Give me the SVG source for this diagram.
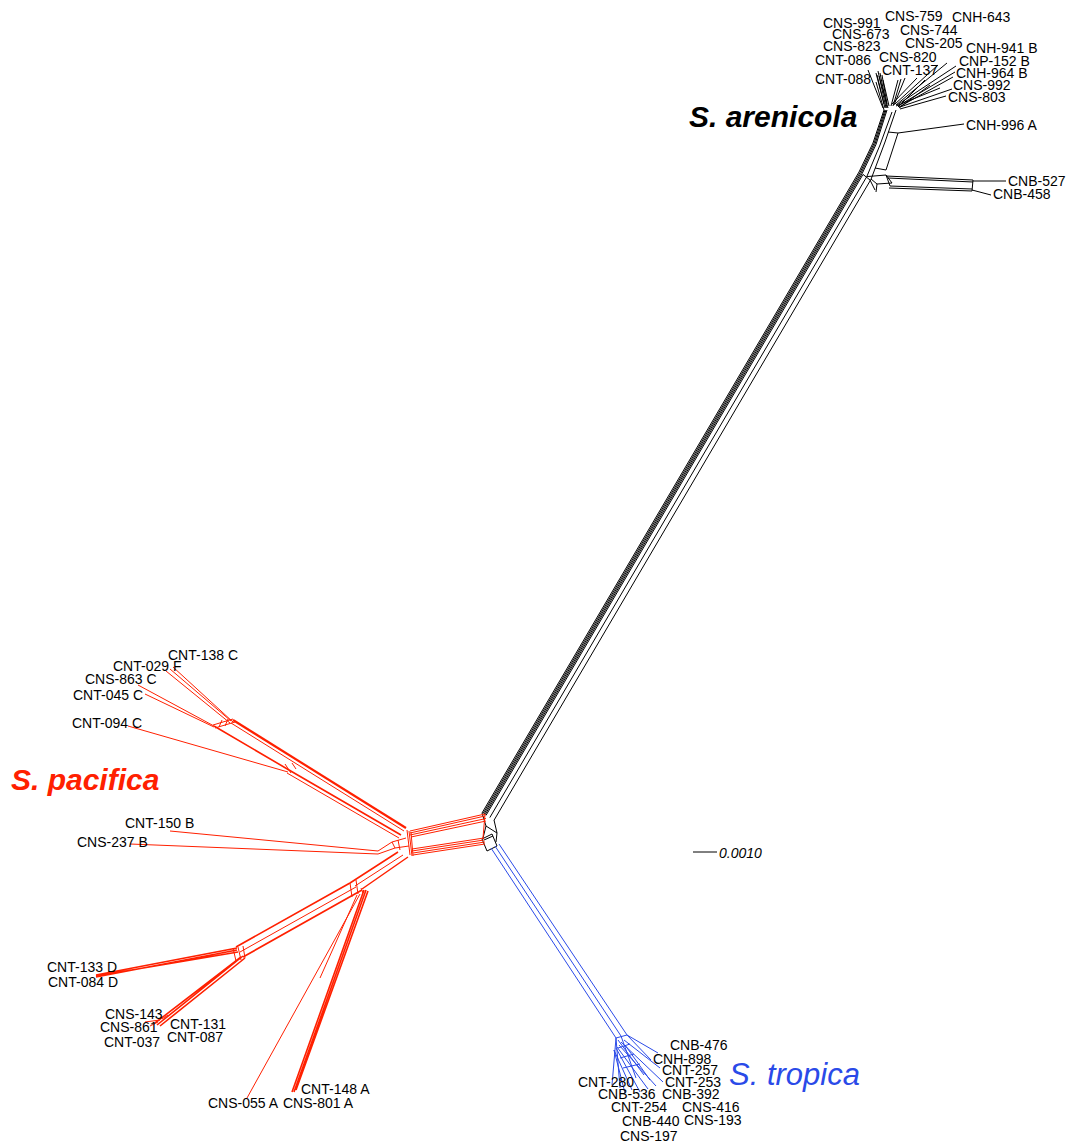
<svg xmlns="http://www.w3.org/2000/svg" width="1068" height="1143" viewBox="0 0 1068 1143">
<style>
text{font-family:"Liberation Sans",Arial,sans-serif;font-size:14px;fill:#000}
.k{stroke:#000;fill:none;stroke-width:1}
.r{stroke:#ff2000;fill:none;stroke-width:1}
.b{stroke:#2a4ae8;fill:none;stroke-width:1}
.sp{font-size:30px;font-weight:bold;font-style:italic}
</style>
<rect width="1068" height="1143" fill="#fff"/>
<g id="connectors">
 <g id="black-net" class="k">
  <path d="M482,813L859,172M483,813.6L860,172.6M484,814.2L861,173.2M485,814.8L862,173.8M486,815.4L863,174.4M489.8,817.6L866.8,176.6M494.1,820.1L871.1,179.1"/>
  <path d="M482,813L486,826L497,833L494,820M486,826L483,838M497,833L496,842M482,839L492,834L497,846L487,851ZM484,840L493,836"/>
  <path d="M859,172L873,143L884,110M860,172.6L874,143.5L885,110M861,173.2L875,144L886,110M862,173.8L876,144.5L887,110M866.8,176.6L880,145L892,112M871.1,179.1L885,142L896,110"/>
  <path d="M863,174.4L870,180L875,190M871,179L877,184L892,183L886,175L866.8,176.6M877,184L876,192"/>
  <path d="M886,176L973,180M888,178L973,182M890,186L972,189M889,188L972,191M973,180L972,191M886,175L890,186"/>
  <path d="M973,181L1006,181M972,190L991,195"/>
  <path d="M888,132L898,133L886,170L875,168M898,133L964,124"/>
  <path d="M884,110L876,82M883,108L868,70M885,108L876,73M886,108L878,71M887,108L880,73M888,108L879,76M889,106L883,80M887,104L882,75M884,104L877,75"/>
  <path d="M891,106L898,80M893,106L901,79M894,105L905,78M895,104L938,65M896,105L947,63M897,105L956,66M898,106L955,72M899,107L953,77M900,107L952,89M900,109L946,96M899,108L930,85M898,107L925,80M892,104L917,78M896,106L940,88"/>
 </g>
 <g id="red-net" class="r">
  <path d="M410,831L485,814M410,833L485,816M410,835L486,818.5M411,837L486,821"/>
  <path d="M412,849L484,838M412,851L484,840M413,853L485,842M413,855L485,844"/>
  <path d="M407,830L410,855M409,831L412,856M411,832L413,856M485,814L483,838"/>
  <path stroke-width="2.2" d="M406,828L233,720"/>
  <path stroke-width="1.6" d="M401,835L289,770L214,726"/>
  <path d="M404,831L231,723M399,838L287,773"/>
  <path d="M285,764L291,773M292,763L296,769M213,725L233,719M215,728L235,722M222,720L219,727M228,719L225,726"/>
  <path d="M173,667L233,722M166,671L230,723M170,669L231,721M138,685L214,726M145,694L214,727M128,726L288,772"/>
  <path d="M170,831L378,851M130,844L378,854M378,851L392,842L406,838M378,854L395,848L409,846M392,842L395,848M398,840L400,850"/>
  <path stroke-width="1.5" d="M398,852L350,883M408,857L362,889"/>
  <path d="M403,855L355,886M350,883L352,897M356,880L358,894M361,888L363,893"/>
  <path stroke-width="1.7" d="M350,883L236,947M362,890L243,957"/>
  <path d="M356,887L240,952M233,948L236,961M238,947L241,960M243,946L245,958"/>
  <path stroke-width="1.6" d="M237,948L96,975M237,950L96,977M238,952L96,976"/>
  <path stroke-width="1.6" d="M243,956L157,1025M245,958L160,1026M241,957L155,1023"/>
  <path d="M160,1020L145,1022M162,1019L168,1015M158,1022L150,1026"/>
  <path stroke-width="1.6" d="M366,890L294,1092M364,890L292,1092M368,891L296,1090"/>
  <path d="M360,894L247,1098M357,895L320,978"/>
 </g>
 <g id="blue-net" class="b">
  <path d="M491,848L616,1038M495,846L621,1036M499,844L627,1035"/>
  <path d="M627,1035L658,1053M627,1035L651,1060M624,1040L660,1068M621,1042L663,1082M619,1045L656,1086M617,1047L648,1089M616,1048L640,1092M614,1050L632,1090M614,1050L625,1093M616,1038L620,1088M616,1038L612,1085M621,1036L636,1078M618,1040L644,1075M625,1045L650,1080"/>
  <path d="M616,1038L627,1035M618,1048L630,1044M620,1058L634,1054M623,1068L640,1064"/>
 </g>
 <path id="scale" class="k" d="M693,852L717,852"/>
</g>
<g id="arenicola">
 <text class="sp" x="689" y="127">S. arenicola</text>
 <text x="823" y="28">CNS-991</text>
 <text x="885" y="21">CNS-759</text>
 <text x="952" y="22">CNH-643</text>
 <text x="832" y="39">CNS-673</text>
 <text x="900" y="35">CNS-744</text>
 <text x="823" y="51">CNS-823</text>
 <text x="905" y="48">CNS-205</text>
 <text x="966" y="53">CNH-941 B</text>
 <text x="815" y="65">CNT-086</text>
 <text x="879" y="62">CNS-820</text>
 <text x="959" y="66">CNP-152 B</text>
 <text x="815" y="84">CNT-088</text>
 <text x="882" y="75">CNT-137</text>
 <text x="956" y="78">CNH-964 B</text>
 <text x="953" y="90">CNS-992</text>
 <text x="948" y="102">CNS-803</text>
 <text x="966" y="130">CNH-996 A</text>
 <text x="1008" y="186">CNB-527</text>
 <text x="993" y="199">CNB-458</text>
</g>
<g id="pacifica">
 <text class="sp" x="11" y="790" style="fill:#ff2000">S. pacifica</text>
 <text x="168" y="660">CNT-138 C</text>
 <text x="113" y="671">CNT-029 F</text>
 <text x="85" y="684">CNS-863 C</text>
 <text x="73" y="700">CNT-045 C</text>
 <text x="72" y="728">CNT-094 C</text>
 <text x="125" y="828">CNT-150 B</text>
 <text x="77" y="847">CNS-237 B</text>
 <text x="47" y="972">CNT-133 D</text>
 <text x="48" y="987">CNT-084 D</text>
 <text x="105" y="1019">CNS-143</text>
 <text x="100" y="1032">CNS-861</text>
 <text x="104" y="1047">CNT-037</text>
 <text x="170" y="1029">CNT-131</text>
 <text x="167" y="1042">CNT-087</text>
 <text x="301" y="1094">CNT-148 A</text>
 <text x="208" y="1108">CNS-055 A</text>
 <text x="283" y="1108">CNS-801 A</text>
</g>
<g id="tropica">
 <text x="729" y="1085" style="font-size:31px;font-style:italic;fill:#2a4ae8">S. tropica</text>
 <text x="670" y="1050">CNB-476</text>
 <text x="653" y="1064">CNH-898</text>
 <text x="662" y="1075">CNT-257</text>
 <text x="578" y="1087">CNT-280</text>
 <text x="665" y="1087">CNT-253</text>
 <text x="598" y="1099">CNB-536</text>
 <text x="662" y="1099">CNB-392</text>
 <text x="611" y="1112">CNT-254</text>
 <text x="682" y="1112">CNS-416</text>
 <text x="622" y="1126">CNB-440</text>
 <text x="684" y="1125">CNS-193</text>
 <text x="620" y="1141">CNS-197</text>
</g>
<g id="scale-label"><text x="719" y="858" style="font-style:italic">0.0010</text></g>
</svg>
